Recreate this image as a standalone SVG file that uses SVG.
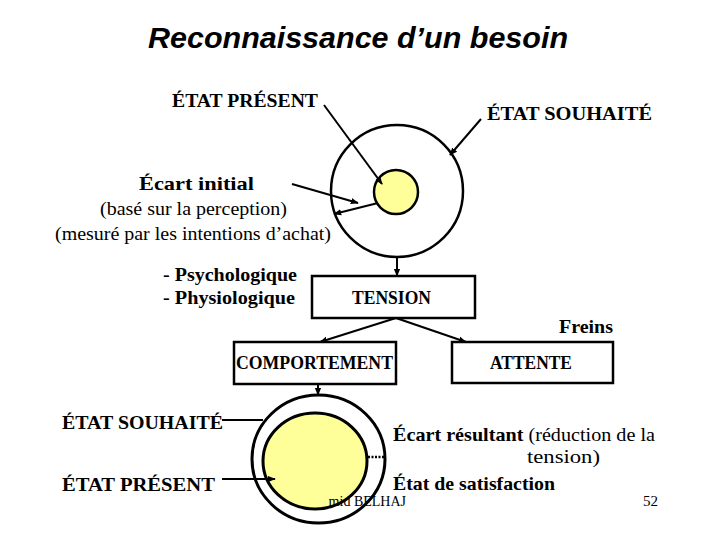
<svg xmlns="http://www.w3.org/2000/svg" width="720" height="540" viewBox="0 0 720 540">
<style>
.t{font-family:"Liberation Serif","Times New Roman",serif;fill:#000}
.b{font-weight:bold}
.ln{stroke:#000;stroke-width:2;fill:none}
.box{fill:#fff;stroke:#000;stroke-width:2.5}
</style>
<defs>
<marker id="ah" viewBox="0 0 10 10" refX="9" refY="5" markerWidth="8" markerHeight="8" markerUnits="userSpaceOnUse" orient="auto-start-reverse"><path d="M0,1 L10,5 L0,9 z" fill="#000"/></marker>
<clipPath id="fclip"><rect x="329" y="480" width="120" height="40"/></clipPath>
</defs>
<rect width="720" height="540" fill="#fff"/>
<text x="148" y="48" font-family="Liberation Sans, Arial, sans-serif" font-weight="bold" font-style="italic" font-size="29" textLength="420" lengthAdjust="spacingAndGlyphs">Reconnaissance d’un besoin</text>

<g id="labels-top">
<text class="t b" x="172" y="107" font-size="18" textLength="146" lengthAdjust="spacingAndGlyphs">ÉTAT PRÉSENT</text>
<text class="t b" x="487" y="120" font-size="18" textLength="165" lengthAdjust="spacingAndGlyphs">ÉTAT SOUHAITÉ</text>
<text class="t b" x="139" y="190" font-size="19" textLength="115" lengthAdjust="spacingAndGlyphs">Écart initial</text>
<text class="t" x="100" y="215" font-size="19" textLength="187" lengthAdjust="spacingAndGlyphs">(basé sur la perception)</text>
<text class="t" x="55" y="240" font-size="19" textLength="276" lengthAdjust="spacingAndGlyphs">(mesuré par les intentions d’achat)</text>
<text class="t b" x="163" y="281" font-size="18" textLength="134" lengthAdjust="spacingAndGlyphs">- Psychologique</text>
<text class="t b" x="163" y="304" font-size="18" textLength="132" lengthAdjust="spacingAndGlyphs">- Physiologique</text>
<text class="t b" x="559" y="333" font-size="18" textLength="54" lengthAdjust="spacingAndGlyphs">Freins</text>
</g>

<g id="top-circles">
<circle cx="397" cy="191" r="66" fill="#fff" stroke="#000" stroke-width="2.5"/>
<circle cx="396" cy="192" r="22" fill="#FFFF99" stroke="#000" stroke-width="2.5"/>
</g>

<g id="tension">
<rect class="box" x="312" y="276" width="163" height="42"/>
<text class="t b" x="352" y="304" font-size="18.5" textLength="79" lengthAdjust="spacingAndGlyphs">TENSION</text>
</g>
<g id="comportement">
<rect class="box" x="234" y="342" width="162" height="42"/>
<text class="t b" x="236" y="369" font-size="18.5" textLength="157" lengthAdjust="spacingAndGlyphs">COMPORTEMENT</text>
</g>
<g id="attente">
<rect class="box" x="452" y="342" width="161" height="41"/>
<text class="t b" x="490" y="369" font-size="18.5" textLength="82" lengthAdjust="spacingAndGlyphs">ATTENTE</text>
</g>

<g id="bottom-circles">
<ellipse cx="318.5" cy="459" rx="66.5" ry="64" fill="#fff" stroke="#000" stroke-width="3"/>
<ellipse cx="315" cy="461" rx="52" ry="48" fill="#FFFF99" stroke="#000" stroke-width="3"/>
<line x1="368" y1="457" x2="384" y2="457" stroke="#000" stroke-width="2.5" stroke-dasharray="2,1.5"/>
</g>

<g id="footer">
<text class="t" x="406" y="506" font-size="14" text-anchor="end" clip-path="url(#fclip)">Hamid BELHAJ</text>
<text class="t" x="643" y="506" font-size="14" textLength="15" lengthAdjust="spacingAndGlyphs">52</text>
</g>

<g id="labels-bottom">
<text class="t b" x="62" y="429" font-size="18" textLength="161" lengthAdjust="spacingAndGlyphs">ÉTAT SOUHAITÉ</text>
<text class="t b" x="62" y="491" font-size="18" textLength="153" lengthAdjust="spacingAndGlyphs">ÉTAT PRÉSENT</text>
<text class="t" x="393" y="441" font-size="19" textLength="262" lengthAdjust="spacingAndGlyphs"><tspan class="b">Écart résultant</tspan> (réduction de la</text>
<text class="t" x="527" y="463" font-size="19" textLength="73" lengthAdjust="spacingAndGlyphs">tension)</text>
<text class="t b" x="393" y="490" font-size="19" textLength="162" lengthAdjust="spacingAndGlyphs">État de satisfaction</text>
</g>

<g id="connectors">
<line class="ln" x1="324" y1="105" x2="382" y2="184" marker-end="url(#ah)"/>
<line class="ln" x1="481" y1="119" x2="450" y2="155" marker-end="url(#ah)"/>
<line class="ln" x1="292" y1="184" x2="358" y2="203" marker-end="url(#ah)"/>
<line class="ln" x1="378" y1="203" x2="334" y2="214" marker-end="url(#ah)"/>
<line class="ln" x1="397" y1="258" x2="397" y2="276" stroke-width="1.5" marker-end="url(#ah)"/>
<line class="ln" x1="396" y1="318" x2="320" y2="342" marker-end="url(#ah)"/>
<line class="ln" x1="396" y1="318" x2="466" y2="342" marker-end="url(#ah)"/>
<line class="ln" x1="318" y1="384" x2="318" y2="395" stroke-width="1.5" marker-end="url(#ah)"/>
<line class="ln" x1="222" y1="420" x2="263" y2="420"/>
<line class="ln" x1="222" y1="479" x2="275" y2="479" marker-end="url(#ah)"/>
</g>
</svg>
